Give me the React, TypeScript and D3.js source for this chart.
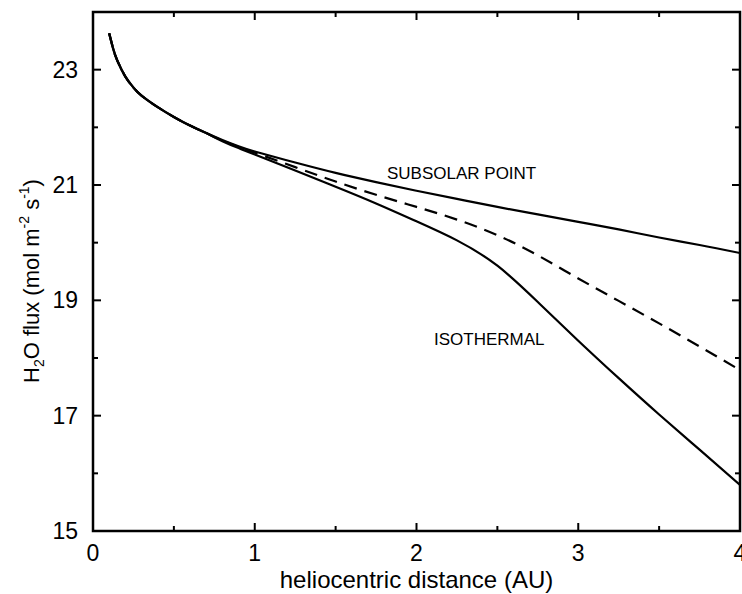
import React from 'react';
import * as d3 from 'd3';

const distance = [0.1, 0.125, 0.15, 0.2, 0.25, 0.3, 0.4, 0.5, 0.6, 0.7, 0.8, 0.9, 1.0, 1.25, 1.5, 1.75, 2.0, 2.25, 2.5, 2.75, 3.0, 3.25, 3.5, 3.75, 4.0];
const subsolar = [23.63, 23.36, 23.16, 22.88, 22.69, 22.55, 22.35, 22.18, 22.03, 21.9, 21.78, 21.67, 21.58, 21.39, 21.21, 21.05, 20.9, 20.76, 20.62, 20.49, 20.36, 20.23, 20.09, 19.96, 19.82];
const intermediate = [23.63, 23.36, 23.16, 22.88, 22.69, 22.55, 22.35, 22.18, 22.03, 21.9, 21.77, 21.66, 21.56, 21.31, 21.06, 20.83, 20.62, 20.4, 20.13, 19.78, 19.38, 18.99, 18.6, 18.2, 17.79];
const isothermal = [23.63, 23.36, 23.16, 22.88, 22.69, 22.55, 22.35, 22.18, 22.03, 21.9, 21.76, 21.64, 21.53, 21.25, 20.97, 20.68, 20.37, 20.04, 19.6, 18.97, 18.3, 17.65, 17.02, 16.41, 15.8];

const xMajor = [0, 1, 2, 3, 4];
const xMinor = [0.5, 1.5, 2.5, 3.5];
const yMajor = [15, 17, 19, 21, 23];
const yMinor = [16, 18, 20, 22];

const W = 742;
const H = 594;
const m = { left: 93, right: 2, top: 12, bottom: 63 };
const font = '"Liberation Sans", Arial, Helvetica, sans-serif';

export default function App() {
  const x = d3.scaleLinear().domain([0, 4]).range([m.left, W - m.right]);
  const y = d3.scaleLinear().domain([15, 24]).range([H - m.bottom, m.top]);

  const line = (vals: number[]) =>
    d3
      .line<number>()
      .x((_, i) => x(distance[i]))
      .y((d) => y(d))
      .curve(d3.curveNatural)(vals) as string;

  const x0 = x(0), x1 = x(4), y0 = y(15), y1 = y(24);

  return (
    <svg width={W} height={H} style={{ position: 'absolute', left: 0, top: 0, background: '#fff' }} fontFamily={font}>
      <defs>
        <clipPath id="plot">
          <rect x={x0} y={y1} width={x1 - x0} height={y0 - y1} />
        </clipPath>
      </defs>
      <g clipPath="url(#plot)" fill="none" stroke="#000" strokeWidth={2.2}>
        <path d={line(subsolar)} />
        <path d={line(intermediate)} strokeDasharray="13,8" />
        <path d={line(isothermal)} />
      </g>
      <g stroke="#000" strokeWidth={2}>
        {xMajor.map((t) => (
          <g key={'xm' + t}>
            <line x1={x(t)} x2={x(t)} y1={y0} y2={y0 - 8} />
            <line x1={x(t)} x2={x(t)} y1={y1} y2={y1 + 8} />
          </g>
        ))}
        {xMinor.map((t) => (
          <g key={'xn' + t}>
            <line x1={x(t)} x2={x(t)} y1={y0} y2={y0 - 5} />
            <line x1={x(t)} x2={x(t)} y1={y1} y2={y1 + 5} />
          </g>
        ))}
        {yMajor.map((t) => (
          <g key={'ym' + t}>
            <line x1={x0} x2={x0 + 8} y1={y(t)} y2={y(t)} />
            <line x1={x1} x2={x1 - 8} y1={y(t)} y2={y(t)} />
          </g>
        ))}
        {yMinor.map((t) => (
          <g key={'yn' + t}>
            <line x1={x0} x2={x0 + 5} y1={y(t)} y2={y(t)} />
            <line x1={x1} x2={x1 - 5} y1={y(t)} y2={y(t)} />
          </g>
        ))}
        <rect x={x0} y={y1} width={x1 - x0} height={y0 - y1} fill="none" strokeWidth={2.5} />
      </g>
      <g fontSize={23} fill="#000">
        {xMajor.map((t) => (
          <text key={'xl' + t} x={x(t)} y={y0 + 30} textAnchor="middle">
            {t}
          </text>
        ))}
        {yMajor.map((t) => (
          <text key={'yl' + t} x={x0 - 15} y={y(t) + 8} textAnchor="end">
            {t}
          </text>
        ))}
      </g>
      <text x={(x0 + x1) / 2} y={588} textAnchor="middle" fontSize={24}>
        heliocentric distance (AU)
      </text>
      <text transform={`translate(39,${281}) rotate(-90)`} textAnchor="middle" fontSize={22}>
        H<tspan fontSize={14} dy={5}>2</tspan>
        <tspan dy={-5}>O flux (mol m</tspan>
        <tspan fontSize={14} dy={-10}>-2</tspan>
        <tspan dy={10}> s</tspan>
        <tspan fontSize={14} dy={-10}>-1</tspan>
        <tspan dy={10}>)</tspan>
      </text>
      <text x={387} y={179} fontSize={17}>SUBSOLAR POINT</text>
      <text x={434} y={345} fontSize={17}>ISOTHERMAL</text>
    </svg>
  );
}
